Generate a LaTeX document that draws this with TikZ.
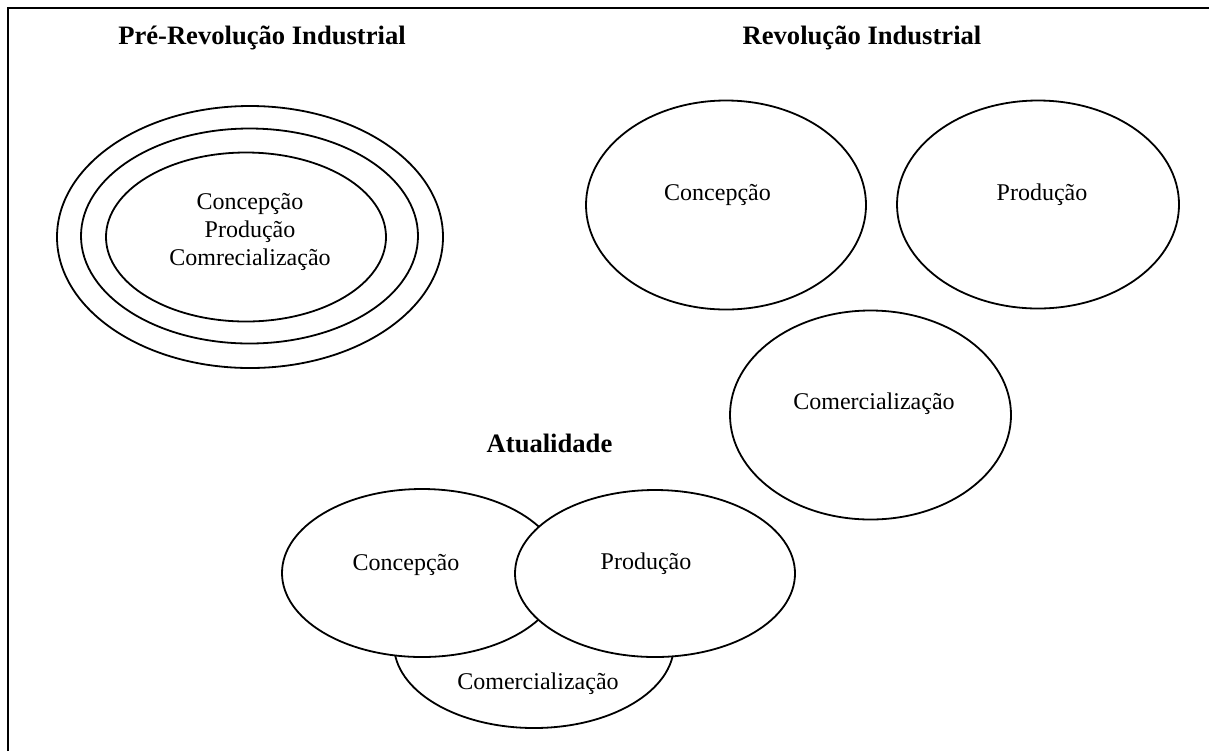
\documentclass[tikz,border=0pt]{standalone}
\usepackage{fontspec}
\setmainfont{Liberation Serif}
\usetikzlibrary{shapes.geometric}

\tikzset{
  oval/.style={draw, ellipse, line width=0.9pt, fill=white, inner sep=0pt},
  lbl/.style={anchor=base, font=\fontsize{12}{13.8}\selectfont},
  ttl/.style={anchor=base, font=\fontsize{13.3}{16}\selectfont\bfseries},
}

\begin{document}
\begin{tikzpicture}[x=0.5pt,y=-0.5pt]
  \useasboundingbox (0,0) rectangle (1209,751);
  % frame
  \coordinate (fb) at (8,751);
  \coordinate (fc) at (8,8);
  \coordinate (fr) at (1209,8);
  \draw[line width=1.2pt] (fb) -- (fc) -- (fr);

  % pre-revolucao
  \node[ttl] (tpre) at (262,44) {Pré-Revolução Industrial};
  \node[oval, minimum width=193pt, minimum height=131pt] (pout) at (250,237) {};
  \node[oval, minimum width=168.5pt, minimum height=107.5pt] (pmid) at (249.5,236) {};
  \node[oval, minimum width=140pt, minimum height=84.5pt] (pin) at (246,237) {};
  \node[font=\fontsize{12}{13.8}\selectfont, align=center] (ptxt) at (250,232)
    {Concepção\\Produção\\Comrecialização};

  % revolucao
  \node[ttl] (trev) at (862,44) {Revolução Industrial};
  \node[oval, minimum width=140pt, minimum height=104.5pt] (rcon) at (726,205) {};
  \node[oval, minimum width=141pt, minimum height=104pt] (rpro) at (1038,204.5) {};
  \node[oval, minimum width=140.5pt, minimum height=104.5pt] (rcom) at (870.5,415) {};
  \node[lbl] (rcont) at (717.5,200) {Concepção};
  \node[lbl] (rprot) at (1042,200) {Produção};
  \node[lbl] (rcomt) at (874,409) {Comercialização};

  % atualidade
  \node[ttl] (tatu) at (549.5,452) {Atualidade};
  \node[oval, minimum width=140pt, minimum height=83.5pt] (acom) at (534,644.5) {};
  \node[oval, minimum width=140pt, minimum height=84pt] (acon) at (422,573) {};
  \node[oval, minimum width=140pt, minimum height=83.5pt] (apro) at (655,573.5) {};
  \node[lbl] (acont) at (406,570) {Concepção};
  \node[lbl] (aprot) at (646,569) {Produção};
  \node[lbl] (acomt) at (538,689) {Comercialização};
\end{tikzpicture}
\end{document}
